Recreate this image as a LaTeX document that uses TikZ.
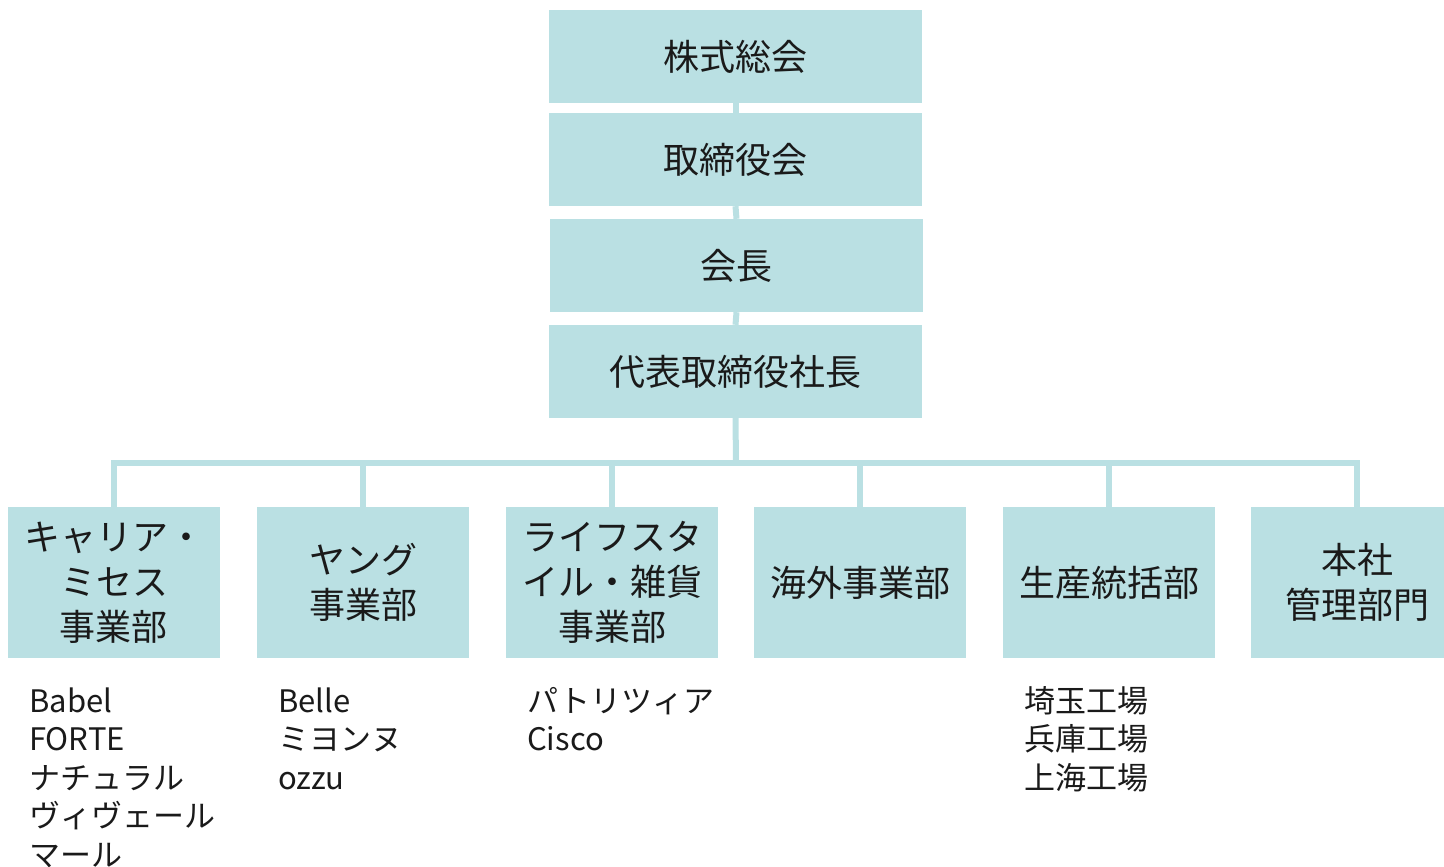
\documentclass[tikz,border=0pt]{standalone}
\usepackage{fontspec}
\setmainfont{Noto Sans CJK JP}
\definecolor{boxfill}{RGB}{186,224,227}
\definecolor{txt}{RGB}{26,26,26}
\begin{document}
\begin{tikzpicture}[x=1pt,y=-1pt,
  topbox/.style={fill=boxfill,draw=none,minimum width=373pt,minimum height=93pt,inner sep=0pt,text=txt,font=\fontsize{36}{45}\selectfont,align=center},
  deptbox/.style={fill=boxfill,draw=none,minimum width=212pt,minimum height=151pt,inner sep=0pt,text=txt,font=\fontsize{36}{45}\selectfont,align=center},
  listtext/.style={anchor=north west,inner sep=0pt,text=txt,font=\fontsize{31}{38.5}\selectfont,align=left},
  conn/.style={draw=boxfill,line width=6pt}]
\useasboundingbox (0,0) rectangle (1444,867);
\clip (0,0) rectangle (1444,867);
% top chain
\node[topbox] (agm) at (735.5,56.5) {株式総会};
\node[topbox] (board) at (735.5,159.5) {取締役会};
\node[topbox] (chair) at (736.5,265.5) {会長};
\node[topbox] (pres) at (735.5,371.5) {代表取締役社長};
\draw[conn] (agm.south) -- (board.north);
\draw[conn] (board.south) -- (chair.north);
\draw[conn] (chair.south) -- (pres.north);
% departments
\node[deptbox] (d1) at (114,582.5) {キャリア・\\ミセス\\事業部};
\node[deptbox] (d2) at (363,582.5) {ヤング\\事業部};
\node[deptbox] (d3) at (612,582.5) {ライフスタ\\イル・雑貨\\事業部};
\node[deptbox] (d4) at (860,582.5) {海外事業部};
\node[deptbox] (d5) at (1109,582.5) {生産統括部};
\node[deptbox] (d6) at (1357,582.5) {本社\\管理部門};
% bus
\coordinate (bus) at (736,463);
\draw[conn] (pres.south) -- (bus);
\draw[conn] (d1.north) |- (bus) -| (d6.north);
\draw[conn] (d2.north) -- (d2.north |- bus);
\draw[conn] (d3.north) -- (d3.north |- bus);
\draw[conn] (d4.north) -- (d4.north |- bus);
\draw[conn] (d5.north) -- (d5.north |- bus);
% lists
\node[listtext] (l1) at (29,685) {\strut Babel\\\strut FORTE\\\strut ナチュラル\\\strut ヴィヴェール\\\strut マール};
\node[listtext] (l2) at (278,685) {\strut Belle\\\strut ミヨンヌ\\\strut ozzu};
\node[listtext] (l3) at (527,685) {\strut パトリツィア\\\strut Cisco};
\node[listtext] (l5) at (1024,685) {\strut 埼玉工場\\\strut 兵庫工場\\\strut 上海工場};
\end{tikzpicture}
\end{document}
